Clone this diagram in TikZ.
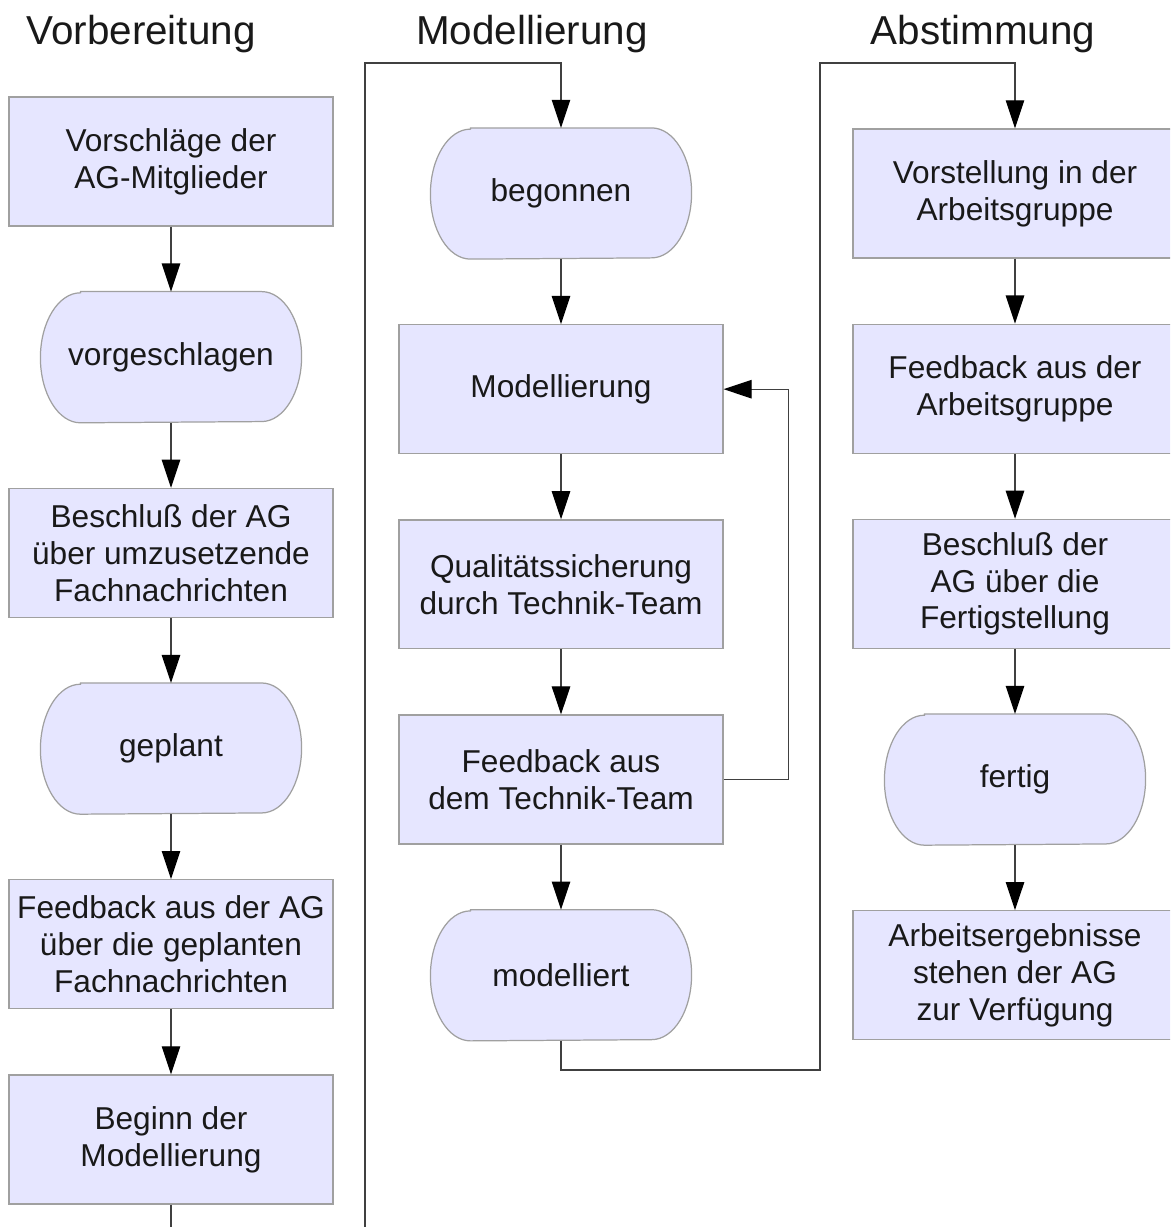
\documentclass[tikz,border=0pt]{standalone}
\usepackage{fontspec}
\setmainfont{Liberation Sans}
\usetikzlibrary{arrows.meta, positioning, backgrounds}
\definecolor{boxFill}{HTML}{E6E6FF}
\definecolor{boxLine}{HTML}{A0A0A0}
\definecolor{flowLine}{HTML}{404040}
\tikzset{>={Triangle[length=16pt, width=10.5pt, color=black]}}
\tikzset{flow-line/.style={line width=0.7pt, draw=flowLine}}
\tikzset{flow-box/.style={draw=boxLine, fill=boxFill, line width=0.7pt, inner sep=0,
    minimum width=6.48cm, minimum height=2.58cm, align=center,
    font=\fontsize{18}{21}\selectfont, text=black!90}}
\tikzset{state-node/.style={flow-box, draw=none, fill=none, minimum width=5.2cm, minimum height=2.6cm}}
\tikzset{heading/.style={anchor=base, font=\fontsize{23}{27}\selectfont, text=black!90}}
\newcommand{\statenode}[3]{
    \node[state-node, #2] (#1) {#3};
    \begin{scope}[on background layer]
        \draw[draw=boxLine, fill=boxFill, line width=0.7pt]
            ([xshift=0.8cm]#1.north west) -- ([xshift=-0.8cm]#1.north east)
            arc[start angle=90, end angle=-90, x radius=0.8cm, y radius=1.3cm]
            -- ([xshift=0.8cm]#1.south west)
            arc[start angle=270, end angle=90, x radius=0.8cm, y radius=1.3cm]
            -- cycle;
    \end{scope}
}

\begin{document}
\begin{tikzpicture}[x=0.02cm, y=-0.02cm]
    \useasboundingbox (0,0) rectangle (1170,1227);
    \clip (0,0) rectangle (1170,1227);

    \node[heading] (headprep) at (141,44) {Vorbereitung};
    \node[heading] (headmodel) at (532,44) {Modellierung};
    \node[heading] (headvote) at (983,44) {Abstimmung};

    % Vorbereitung
    \node[flow-box] (proposals) at (171,161.5) {Vorschläge der\\AG-Mitglieder};
    \statenode{proposed}{below=1.3cm of proposals}{vorgeschlagen}
    \node[flow-box, below=1.3cm of proposed] (decision) {Beschluß der AG\\über umzusetzende\\Fachnachrichten};
    \statenode{planned}{below=1.3cm of decision}{geplant}
    \node[flow-box, below=1.3cm of planned] (agfeedback) {Feedback aus der AG\\über die geplanten\\Fachnachrichten};
    \node[flow-box, below=1.3cm of agfeedback] (modstart) {Beginn der\\Modellierung};

    % Modellierung
    \statenode{begun}{at={(561,193.5)}}{begonnen}
    \node[flow-box, below=1.3cm of begun] (modelling) {Modellierung};
    \node[flow-box, below=1.3cm of modelling] (quality) {Qualitätssicherung\\durch Technik-Team};
    \node[flow-box, below=1.3cm of quality] (techfeedback) {Feedback aus\\dem Technik-Team};
    \statenode{modelled}{below=1.3cm of techfeedback}{modelliert}

    % Abstimmung
    \node[flow-box] (present) at (1015,193.5) {Vorstellung in der\\Arbeitsgruppe};
    \node[flow-box, below=1.3cm of present] (groupfeedback) {Feedback aus der\\Arbeitsgruppe};
    \node[flow-box, below=1.3cm of groupfeedback] (finaldecision) {Beschluß der\\AG über die\\Fertigstellung};
    \statenode{done}{below=1.3cm of finaldecision}{fertig}
    \node[flow-box, below=1.3cm of done] (results) {Arbeitsergebnisse\\stehen der AG\\zur Verfügung};

    \coordinate (wrapbottom) at (365,1260);
    \coordinate (wraptop) at (365,63);
    \coordinate (passbottom) at (820,1070);
    \coordinate (passtop) at (820,63);

    \draw[->, flow-line] (proposals) -- (proposed);
    \draw[->, flow-line] (proposed) -- (decision);
    \draw[->, flow-line] (decision) -- (planned);
    \draw[->, flow-line] (planned) -- (agfeedback);
    \draw[->, flow-line] (agfeedback) -- (modstart);
    \draw[->, flow-line] (modstart.south) |- (wrapbottom) -- (wraptop) -| (begun);

    \draw[->, flow-line] (begun) -- (modelling);
    \draw[->, flow-line] (modelling) -- (quality);
    \draw[->, flow-line] (quality) -- (techfeedback);
    \draw[->, flow-line] (techfeedback) -- (modelled);
    \draw[->, flow-line] (techfeedback.east) -- ++(65,0) |- (modelling.east);
    \draw[->, flow-line] (modelled.south) |- (passbottom) -- (passtop) -| (present);

    \draw[->, flow-line] (present) -- (groupfeedback);
    \draw[->, flow-line] (groupfeedback) -- (finaldecision);
    \draw[->, flow-line] (finaldecision) -- (done);
    \draw[->, flow-line] (done) -- (results);
\end{tikzpicture}
\end{document}
